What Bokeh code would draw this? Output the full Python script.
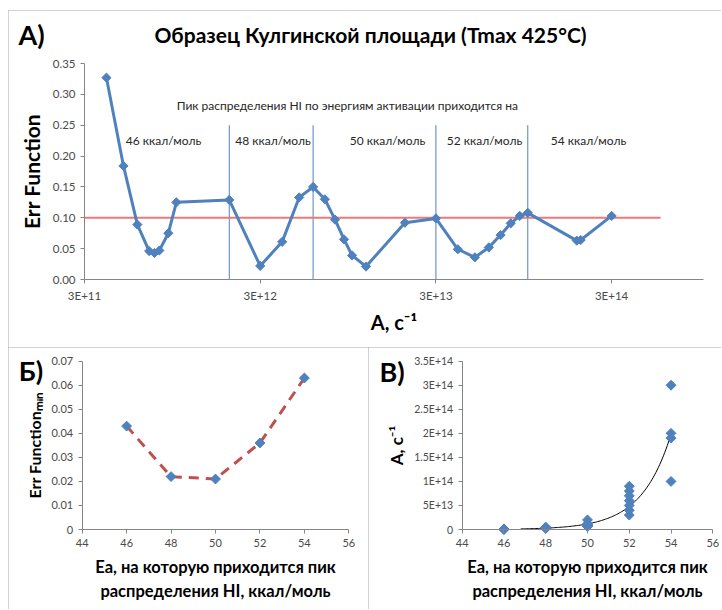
import numpy as np
from bokeh.plotting import figure
from bokeh.layouts import column, row
from bokeh.models import FixedTicker, CustomJSTickFormatter, NumeralTickFormatter, Label, Range1d, Spacer
from bokeh.embed import file_html
from bokeh.resources import INLINE

FONT = "Lato"

# ---------------- data ----------------
# Panel A: Err Function vs A (s^-1)
a_A = [4e11, 5e11, 6e11, 7e11, 7.5e11, 8e11, 9e11, 1e12,
       2e12, 3e12, 4e12, 5e12,
       6e12, 7e12, 8e12, 9e12, 1e13, 1.2e13, 2e13,
       3e13, 4e13, 5e13, 6e13, 7e13, 8e13, 9e13,
       1e14, 1.9e14, 2e14, 3e14]
a_err = [0.327, 0.184, 0.089, 0.046, 0.043, 0.047, 0.075, 0.125,
         0.129, 0.022, 0.061, 0.133,
         0.150, 0.130, 0.097, 0.065, 0.039, 0.021, 0.092,
         0.099, 0.049, 0.036, 0.052, 0.072, 0.091, 0.103,
         0.108, 0.063, 0.064, 0.103]
# Ea group of each point (kcal/mol)
a_ea = [46, 46, 46, 46, 46, 46, 46, 46,
        48, 48, 48, 48,
        50, 50, 50, 50, 50, 50, 50,
        52, 52, 52, 52, 52, 52, 52,
        54, 54, 54, 54]
threshold = 0.10
threshold_x = [3e11, 5.7e14]
boundaries = [2e12, 6e12, 3e13, 1e14]
boundary_top = 0.25
ea_labels = ["46 ккал/моль", "48 ккал/моль", "50 ккал/моль", "52 ккал/моль", "54 ккал/моль"]
a_ticks = [3e11, 3e12, 3e13, 3e14]
a_yticks = [0, 0.05, 0.10, 0.15, 0.20, 0.25, 0.30, 0.35]

# Panel B: minimum Err Function per Ea
b_ea = [46, 48, 50, 52, 54]
b_errmin = [0.043, 0.022, 0.021, 0.036, 0.063]
ea_ticks = [44, 46, 48, 50, 52, 54, 56]
b_yticks = [0, 0.01, 0.02, 0.03, 0.04, 0.05, 0.06, 0.07]
c_yticks = [0, 5e13, 1e14, 1.5e14, 2e14, 2.5e14, 3e14, 3.5e14]

TITLE = "Образец Кулгинской площади (Tmax 425°C)"
NOTE = "Пик распределения  HI  по энергиям активации  приходится  на"

sci_fmt = CustomJSTickFormatter(code="""
if (tick == 0) { return "0"; }
const e = Math.floor(Math.log10(tick) + 1e-9);
const m = Math.round(tick / Math.pow(10, e) * 10) / 10;
return m + "E+" + e;
""")

# ---------------- page geometry (pixels) ----------------
# figures: p1 x 8..721, y 10..347 ; p2 x 8..368, y 347..609 ; p3 x 368..721, y 347..609
# plot areas: p1 x 84..703, y 63..279 ; p2 x 81.7..348.3, y 360.7..529 ; p3 x 461.7..712.3, y 360.7..529

def lin_map(px, p0, p1_, d0, d1):
    return d0 + (px - p0) / (p1_ - p0) * (d1 - d0)

A_LO, A_HI = 3e11, 1e15
def a_x(px):
    return 10 ** lin_map(px, 84, 703, np.log10(A_LO), np.log10(A_HI))
def a_y(py):
    return lin_map(py, 279, 63, 0, 0.35)
def b_x(px):
    return lin_map(px, 81.7, 348.3, 44, 56)
def b_y(py):
    return lin_map(py, 529, 360.7, 0, 0.07)
def c_x(px):
    return lin_map(px, 461.7, 712.3, 44, 56)
def c_y(py):
    return lin_map(py, 529, 360.7, 0, 3.5e14)


def style(p, tick_size="10px", label_size="14px"):
    p.grid.visible = False
    p.outline_line_color = None
    p.background_fill_color = "white"
    p.border_fill_color = "white"
    p.title.visible = False
    p.styles = {"outline": "1px solid #a6a6a6", "outline-offset": "-1px"}
    for ax in p.axis:
        ax.axis_line_color = "#868686"
        ax.major_tick_line_color = "#868686"
        ax.minor_tick_line_color = None
        ax.major_tick_in = 0
        ax.major_tick_out = 4
        ax.major_label_text_font = FONT
        ax.major_label_text_font_size = tick_size
        ax.major_label_text_color = "#4a4a4a"
        ax.major_label_standoff = 5
        ax.axis_label_text_font = FONT
        ax.axis_label_text_font_style = "bold"
        ax.axis_label_text_font_size = label_size
        ax.axis_label_text_color = "black"

def text(p, x, y, s, size, bold=False, color="black"):
    p.add_layout(Label(x=x, y=y, text=s, text_font=FONT, text_font_size=size,
                       text_font_style="bold" if bold else "normal", text_color=color,
                       text_align="center", text_baseline="middle"))

BORDERS = dict(min_border_left=0, min_border_right=0, min_border_top=0, min_border_bottom=0)

# ---------------- Panel A ----------------
p1 = figure(width=713, height=337, x_axis_type="log",
            x_range=Range1d(a_x(8), a_x(721)), y_range=Range1d(a_y(347), a_y(10)),
            output_backend="svg", toolbar_location=None, **BORDERS)
style(p1, "11.5px", "20px")
p1.xaxis.fixed_location = 0
p1.yaxis.fixed_location = A_LO
p1.xaxis.bounds = (A_LO, A_HI)
p1.yaxis.bounds = (0, 0.35)
p1.xaxis.ticker = FixedTicker(ticks=a_ticks, minor_ticks=[])
p1.xaxis.formatter = sci_fmt
p1.yaxis.ticker = FixedTicker(ticks=a_yticks, minor_ticks=[])
p1.yaxis.formatter = NumeralTickFormatter(format="0.00")
p1.xaxis.axis_label = "A, с⁻¹"
p1.yaxis.axis_label = "Err Function"
p1.yaxis.axis_label_text_font_size = "21px"
p1.xaxis.axis_label_standoff = 5
p1.yaxis.axis_label_standoff = 6

p1.segment(x0=boundaries, y0=[0] * len(boundaries), x1=boundaries, y1=[boundary_top] * len(boundaries),
           line_color="#4F81BD", line_width=1)
p1.line(threshold_x, [threshold, threshold], line_color="#F07878", line_width=2)
p1.line(a_A, a_err, line_color="#4F81BD", line_width=3)
p1.scatter(a_A, a_err, marker="square", angle=np.pi / 4, size=6.5, color="#4F81BD")

for s, px in zip(ea_labels, [163, 272.5, 387, 484, 588]):
    text(p1, a_x(px), a_y(139.5), s, "12px", color="#262626")
text(p1, a_x(353), a_y(105), NOTE, "12px", color="#262626")
text(p1, a_x(370), a_y(34), TITLE, "21px", bold=True)
text(p1, a_x(31), a_y(34), "A)", "27px", bold=True)

# ---------------- Panel Б ----------------
p2 = figure(width=360, height=262, x_range=Range1d(b_x(8), b_x(368)), y_range=Range1d(b_y(609), b_y(347)),
            output_backend="svg", toolbar_location=None, **BORDERS)
style(p2, "11px", "16.5px")
p2.xaxis.fixed_location = 0
p2.yaxis.fixed_location = 44
p2.xaxis.bounds = (44, 56)
p2.yaxis.bounds = (0, 0.07)
p2.xaxis.ticker = FixedTicker(ticks=ea_ticks, minor_ticks=[])
p2.yaxis.ticker = FixedTicker(ticks=b_yticks, minor_ticks=[])
p2.yaxis.formatter = CustomJSTickFormatter(code="return tick == 0 ? '0' : tick.toFixed(2);")
p2.xaxis.axis_label = "Ea, на которую приходится пик\nраспределения HI, ккал/моль"
p2.yaxis.axis_label = "Err Functionₘᵢₙ"
p2.yaxis.axis_label_text_font_size = "16px"
p2.xaxis.axis_label_standoff = 7
p2.yaxis.axis_label_standoff = 5
p2.line(b_ea, b_errmin, line_color="#C0504D", line_width=3, line_dash="10 7")
p2.scatter(b_ea, b_errmin, marker="square", angle=np.pi / 4, size=7, color="#4F81BD")
text(p2, b_x(30.5), b_y(370), "Б)", "27px", bold=True)

# ---------------- Panel В ----------------
p3 = figure(width=353, height=262, x_range=Range1d(c_x(368), c_x(721)), y_range=Range1d(c_y(609), c_y(347)),
            output_backend="svg", toolbar_location=None, **BORDERS)
style(p3, "10.5px", "16.5px")
p3.xaxis.fixed_location = 0
p3.yaxis.fixed_location = 44
p3.xaxis.bounds = (44, 56)
p3.yaxis.bounds = (0, 3.5e14)
p3.xaxis.ticker = FixedTicker(ticks=ea_ticks, minor_ticks=[])
p3.yaxis.ticker = FixedTicker(ticks=c_yticks, minor_ticks=[])
p3.xaxis.major_label_text_font_size = "11px"
p3.yaxis.formatter = sci_fmt
p3.xaxis.axis_label = "Ea, на которую приходится пик\nраспределения HI, ккал/моль"
p3.yaxis.axis_label = "A, с⁻¹"
p3.yaxis.axis_label_text_font_size = "17px"
p3.xaxis.axis_label_standoff = 7
p3.yaxis.axis_label_standoff = 5

# exponential trend line fitted to the data (as in the spreadsheet)
coef = np.polyfit(np.array(a_ea, dtype=float), np.log(np.array(a_A)), 1)
tx = np.linspace(46.8, 54, 120)
p3.line(tx, np.exp(np.polyval(coef, tx)), line_color="black", line_width=1)
p3.scatter(a_ea, a_A, marker="square", angle=np.pi / 4, size=7, color="#4F81BD")
text(p3, c_x(391.5), c_y(371), "В)", "27px", bold=True)

layout = column(Spacer(height=10),
                row(Spacer(width=8), column(p1, row(p2, p3))))
open("out.html", "w").write(file_html(layout, INLINE))
